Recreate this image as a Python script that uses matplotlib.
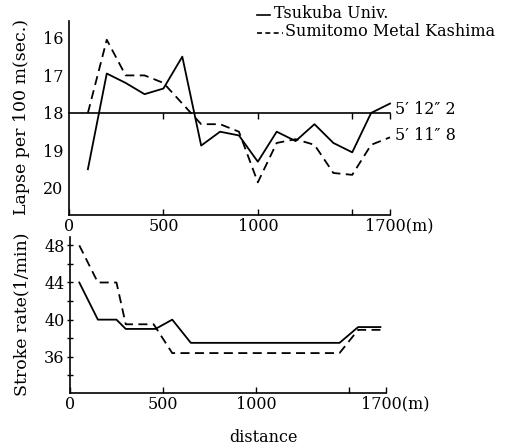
import matplotlib
matplotlib.use("Agg")
import matplotlib.pyplot as plt
from matplotlib.lines import Line2D
from matplotlib.transforms import ScaledTranslation

plt.rcParams['font.family'] = ['DejaVu Serif', 'DejaVu Sans']
FS = 11.5

# ---- data ----
lapse_dist = [100, 200, 300, 400, 500, 600, 700, 800, 900, 1000, 1100, 1200, 1300, 1400, 1500, 1600, 1700]
lapse_tsukuba = [19.5, 16.95, 17.2, 17.5, 17.35, 16.5, 18.87, 18.5, 18.6, 19.3, 18.5, 18.75, 18.3, 18.8, 19.05, 18.0, 17.75]
lapse_sumitomo = [18.0, 16.05, 17.0, 17.0, 17.2, 17.75, 18.3, 18.3, 18.5, 19.85, 18.8, 18.7, 18.85, 19.6, 19.65, 18.85, 18.65]
ref_lapse = 18.0

stroke_dist_t = [50, 150, 250, 300, 460, 550, 650, 1450, 1550, 1670]
stroke_tsukuba = [44, 40, 40, 39, 39, 40, 37.5, 37.5, 39.2, 39.2]
stroke_dist_s = [50, 150, 250, 300, 450, 550, 1450, 1550, 1670]
stroke_sumitomo = [48, 44, 44, 39.5, 39.5, 36.4, 36.4, 38.9, 38.9]

xticks = [0, 500, 1000, 1500, 1700]
xticklabels = ['0', '500', '1000', '', '1700(m)']
lapse_ticks = [16, 17, 18, 19, 20]
stroke_ticks = [36, 40, 44, 48]
final_times = ["5\u2032 12\u2033 2", "5\u2032 11\u2033 8"]
legend_labels = ["Tsukuba Univ.", "Sumitomo Metal Kashima"]

W, H = 508, 447
fig = plt.figure(figsize=(W / 100, H / 100), dpi=100)

def fx(px):
    return px / W

def fy(py):
    return 1 - py / H

ax1 = fig.add_axes([fx(69), fy(215), fx(390) - fx(69), fy(21) - fy(215)])
ax2 = fig.add_axes([fx(70), fy(393), fx(386) - fx(70), fy(237) - fy(393)])

for ax in (ax1, ax2):
    ax.spines['top'].set_visible(False)
    ax.spines['right'].set_visible(False)
    for s in ('left', 'bottom'):
        ax.spines[s].set_linewidth(1.2)
    ax.set_xlim(0, 1700)
    ax.set_xticks(xticks)
    ax.set_xticklabels(xticklabels, fontsize=FS)
    ax.tick_params(axis='x', direction='in', length=4, width=1, pad=2)
    ax.patch.set_alpha(0)
    lab = ax.get_xticklabels()[-1]
    lab.set_transform(lab.get_transform() + ScaledTranslation(9 / 100, 0, fig.dpi_scale_trans))

lw = 1.3
dash = (0, (5, 3))

# top panel
ax1.set_ylim(20.72, 15.55)
ax1.set_yticks(lapse_ticks)
ax1.set_yticklabels([str(v) for v in lapse_ticks], fontsize=FS)
ax1.tick_params(axis='y', length=0, pad=4)
ax1.plot([0, 1700], [ref_lapse, ref_lapse], color='black', lw=1.2, clip_on=False)
ax1.plot([500, 1000, 1500, 1700], [ref_lapse] * 4, ls='none', marker=3, ms=4, mew=1, color='black', clip_on=False)
ax1.plot(lapse_dist, lapse_tsukuba, color='black', lw=lw, clip_on=False)
ax1.plot(lapse_dist, lapse_sumitomo, color='black', lw=lw, ls=dash, clip_on=False)
ax1.text(1725, 17.92, final_times[0], fontsize=FS, va='center', ha='left')
ax1.text(1725, 18.59, final_times[1], fontsize=FS, va='center', ha='left')

# bottom panel
ax2.set_ylim(32.1, 48.9)
ax2.set_yticks(stroke_ticks)
ax2.set_yticklabels([str(v) for v in stroke_ticks], fontsize=FS)
ax2.set_yticks([34, 38, 42, 46], minor=True)
ax2.tick_params(axis='y', which='both', direction='inout', length=4, width=1, pad=2)
ax2.plot(stroke_dist_t, stroke_tsukuba, color='black', lw=lw)
ax2.plot(stroke_dist_s, stroke_sumitomo, color='black', lw=lw, ls=dash)

# axis labels
fig.text(fx(22), fy(117), "Lapse per 100 m(sec.)", rotation=90, fontsize=12.5, ha='center', va='center')
fig.text(fx(22), fy(314), "Stroke rate(1/min)", rotation=90, fontsize=12.5, ha='center', va='center')
fig.text(fx(263), fy(437), "distance", fontsize=FS, ha='center', va='center')

# legend
fig.add_artist(Line2D([fx(257), fx(270)], [fy(15), fy(15)], color='black', lw=1.2))
fig.text(fx(274), fy(13), legend_labels[0], fontsize=FS, ha='left', va='center')
fig.add_artist(Line2D([fx(257), fx(283)], [fy(33), fy(33)], color='black', lw=1.2, ls=(0, (3, 2))))
fig.text(fx(285), fy(32), legend_labels[1], fontsize=FS, ha='left', va='center')

fig.savefig("out.png", dpi=100)
